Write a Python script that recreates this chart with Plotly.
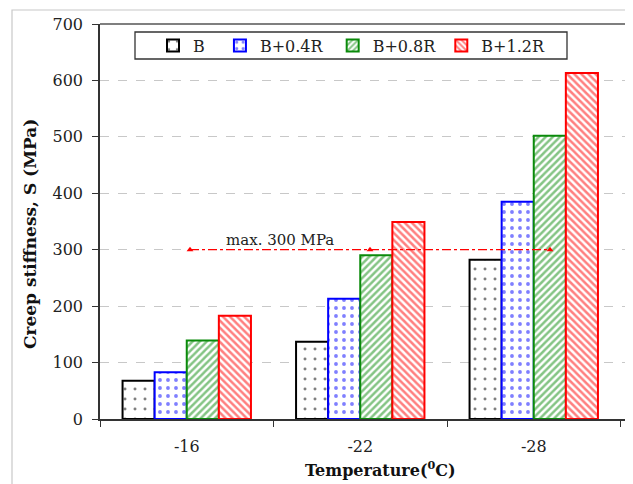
import plotly.graph_objects as go

categories = ["-16", "-22", "-28"]
series_names = ["B", "B+0.4R", "B+0.8R", "B+1.2R"]
val_B = [68, 137, 282]
val_B04R = [83, 213, 385]
val_B08R = [139, 290, 502]
val_B12R = [183, 349, 613]
limit_values = [300, 300, 300]
limit_label = "max. 300 MPa"
y_ticks = [0, 100, 200, 300, 400, 500, 600, 700]

colors = ["black", "blue", "#0a8a0a", "red"]
patterns = [
    dict(shape=".", fgcolor="black", bgcolor="white", size=10, solidity=0.07),
    dict(shape=".", fgcolor="blue", bgcolor="white", size=8, solidity=0.18),
    dict(shape="/", fgcolor="#0a8a0a", bgcolor="white", size=5, solidity=0.5),
    dict(shape="\\", fgcolor="red", bgcolor="white", size=5, solidity=0.5),
]
all_vals = [val_B, val_B04R, val_B08R, val_B12R]
legend_pad = ["\u00a0\u00a0", "\u00a0", "", ""]

FONT = "DejaVu Serif"
fig = go.Figure()
for name, vals, col, pat, pad in zip(series_names, all_vals, colors, patterns, legend_pad):
    fig.add_trace(go.Bar(
        x=categories, y=vals, name=name + pad,
        marker=dict(color="white", line=dict(color=col, width=2), pattern=pat),
    ))

fig.add_trace(go.Scatter(
    x=[0, 1, 2], y=limit_values, xaxis="x2", mode="lines+markers",
    line=dict(color="red", width=1.3, dash="dashdot"),
    marker=dict(symbol="triangle-up", size=6, color="red"),
    showlegend=False,
))

# page has an 8px body margin; design in page pixels and convert
O = 8
W, H = 633, 484
PL, PR, PT, PB = 100, 633, 24, 419   # plot area in page pixels
ml = PL - O
mr = W - (PR - O)
mt = PT - O
mb = H - (PB - O)
pw = PR - PL
ph = PB - PT
cat_w = 173.5
x_hi = -0.5 + pw / cat_w


def px_x(p):
    return (p - PL) / pw


def px_y(p):
    return 1 - (p - PT) / ph


fig.add_annotation(x=1, xref="x2", y=300, yref="y", text=limit_label,
                   showarrow=False, xshift=-90, yshift=10,
                   font=dict(family=FONT, size=15, color="#222"))
fig.add_annotation(x=px_x(380), xref="paper", y=px_y(469),
                   yref="paper", xanchor="center", yanchor="middle",
                   text="<b>Temperature(<sup>0</sup>C)</b>",
                   showarrow=False, font=dict(family=FONT, size=16, color="#111"))
fig.add_annotation(x=px_x(30), xref="paper", y=px_y(234),
                   yref="paper", xanchor="center", yanchor="middle",
                   textangle=-90, text="<b>Creep stiffness, S (MPa)</b>",
                   showarrow=False, font=dict(family=FONT, size=17, color="#111"))

fig.add_shape(type="rect", xref="paper", yref="paper",
              x0=px_x(12), x1=1.3, y0=-0.5, y1=px_y(10),
              line=dict(color="#c8c8c8", width=1.2), layer="below")
fig.add_shape(type="rect", xref="paper", yref="paper",
              x0=px_x(135), x1=px_x(567), y0=px_y(59), y1=px_y(32),
              line=dict(color="#333", width=1.3), fillcolor="white", layer="below")

fig.update_layout(
    width=W, height=H,
    margin=dict(l=ml, r=mr, t=mt, b=mb, autoexpand=False),
    paper_bgcolor="white", plot_bgcolor="rgba(0,0,0,0)",
    barmode="group", bargap=0.26, bargroupgap=0,
    font=dict(family=FONT, size=16, color="#222"),
    showlegend=True,
    legend=dict(orientation="h", x=px_x(153), y=px_y(45.5),
                xanchor="left", yanchor="middle",
                borderwidth=0, bgcolor="rgba(0,0,0,0)",
                font=dict(family=FONT, size=16, color="#222"),
                traceorder="normal"),
    xaxis=dict(range=[-0.5, x_hi], tickson="boundaries", ticks="outside",
               ticklen=6, tickcolor="#333", showline=True, linecolor="#333",
               linewidth=1.5, showgrid=False, tickfont=dict(size=16),
               ticklabelstandoff=12,
               type="category", automargin=False),
    xaxis2=dict(overlaying="x", range=[-0.5, -0.5 + 3 * pw / 540],
                visible=False, showgrid=False, automargin=False),
    yaxis=dict(range=[0, 700], tickvals=y_ticks, ticks="outside", ticklen=6,
               tickcolor="#333", showline=True, linecolor="#333", linewidth=1.5,
               showgrid=True, gridcolor="#c8c8c8", griddash="dash", gridwidth=1,
               zeroline=False, tickfont=dict(size=16), automargin=False,
               ticklabelstandoff=6),
)
fig.add_shape(type="line", xref="paper", yref="paper", x0=0, x1=1, y0=1, y1=1,
              line=dict(color="#555", width=1.3))

fig.write_html("out.html")
